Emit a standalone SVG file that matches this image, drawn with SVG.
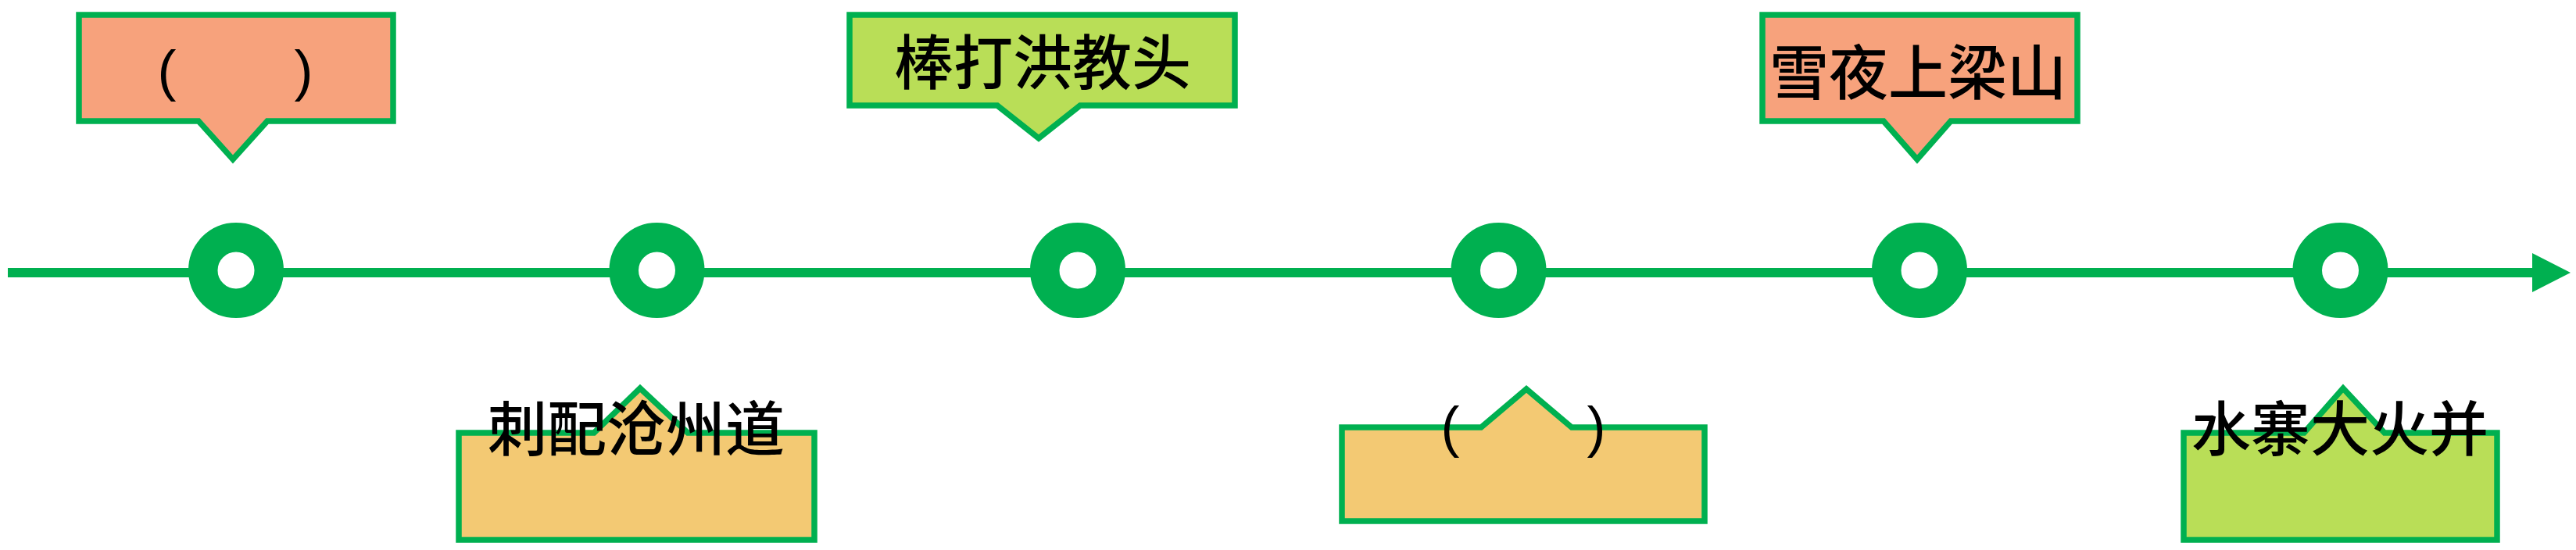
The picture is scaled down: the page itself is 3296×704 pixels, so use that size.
<svg xmlns="http://www.w3.org/2000/svg" width="3296" height="704" viewBox="0 0 3296 704">
  <style>
    .ring { fill: #FFFFFF; stroke: #00B050; stroke-width: 37.5; }
    .callout { stroke: #00B050; stroke-width: 7.5; stroke-linejoin: miter; stroke-miterlimit: 10; }
    .salmon { fill: #F7A27C; }
    .lime { fill: #B9DE57; }
    .gold { fill: #F3C973; }
    .label { font-family: "Noto Sans CJK SC", "Noto Sans", sans-serif; font-size: 76px; font-weight: 500; fill: #000000; text-anchor: middle; }
    .paren { font-family: "Liberation Sans", "Noto Sans", sans-serif; font-size: 72px; fill: #000000; text-anchor: middle; }
    .axis { stroke: #00B050; stroke-width: 12; fill: none; }
  </style>
  <defs>
    <marker id="arrow" markerUnits="userSpaceOnUse" markerWidth="50" markerHeight="50" refX="0" refY="25" orient="auto">
      <path d="M0,0 L49,25 L0,50 Z" fill="#00B050"/>
    </marker>
  </defs>
  <rect x="0" y="0" width="3296" height="704" fill="#FFFFFF"/>

  <g id="connectors">
    <line class="axis" x1="10" y1="349" x2="3240" y2="349" marker-end="url(#arrow)"/>
  </g>

  <g id="event1">
    <circle class="ring" cx="302" cy="346" r="42.25"/>
    <path class="callout salmon" d="M101,19 H503 V155 H342 L298,204 L254,155 H101 Z"/>
    <text class="paren" x="301" y="115" textLength="199" lengthAdjust="spacing" xml:space="preserve">(        )</text>
  </g>

  <g id="event2">
    <circle class="ring" cx="840.5" cy="346" r="42.25"/>
    <path class="callout gold" d="M587,554 H760 L819,497 L880,554 H1042 V691 H587 Z"/>
    <text class="label" x="814" y="577">刺配沧州道</text>
  </g>

  <g id="event3">
    <circle class="ring" cx="1379" cy="346" r="42.25"/>
    <path class="callout lime" d="M1087,19 H1580 V135 H1382 L1329,177 L1276,135 H1087 Z"/>
    <text class="label" x="1334" y="108">棒打洪教头</text>
  </g>

  <g id="event4">
    <circle class="ring" cx="1917.5" cy="346" r="42.25"/>
    <path class="callout gold" d="M1717,547 H1895 L1953,498 L2011,547 H2181 V667 H1717 Z"/>
    <text class="paren" x="1949" y="571" textLength="211" lengthAdjust="spacing" xml:space="preserve">(        )</text>
  </g>

  <g id="event5">
    <circle class="ring" cx="2456" cy="346" r="42.25"/>
    <path class="callout salmon" d="M2255,19 H2658 V155 H2496 L2453,204 L2410,155 H2255 Z"/>
    <text class="label" x="2454" y="121">雪夜上梁山</text>
  </g>

  <g id="event6">
    <circle class="ring" cx="2994.5" cy="346" r="42.25"/>
    <path class="callout lime" d="M2794,554 H2948 L2998,497 L3051,554 H3195 V691 H2794 Z"/>
    <text class="label" x="2994" y="577">水寨大火并</text>
  </g>
</svg>
